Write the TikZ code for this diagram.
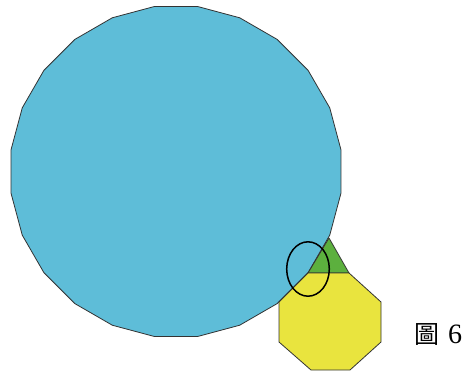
\documentclass[tikz,border=0pt]{standalone}
\usepackage{fontspec}
\setmainfont{Liberation Serif}
\newfontfamily\cjk{Noto Sans CJK TC}
\usetikzlibrary{positioning}
\definecolor{bigblue}{RGB}{94,189,216}
\definecolor{trigreen}{RGB}{92,176,62}
\definecolor{octyellow}{RGB}{233,228,62}

\begin{document}
\begin{tikzpicture}[x=1pt,y=-1pt, tile/.style={draw=black!80,line width=0.8pt,line join=round}]
\useasboundingbox (0,0) rectangle (463,372);
% 24-gon
\begin{scope}[shift={(176,171.5)}]
\coordinate (c24) at (0,0);
\draw[tile,fill=bigblue] (7.5:166.4) \foreach \k in {1,...,23}{ -- (7.5+15*\k:166.4)} -- cycle;
\end{scope}
% triangle and octagon
\coordinate (v) at (308,273);
\draw[tile,fill=trigreen] (v) -- (349,273) -- (329,238) -- cycle;
\draw[tile,fill=octyellow] (v) -- (349,273) -- (381,302) -- (381,342) -- (350,370) -- (311,370) -- (279,342) -- (279,302) -- cycle;
% mark
\draw[line width=1.5pt] (308,269) ellipse [x radius=21.3, y radius=27.2];
\node[inner sep=0pt] (cap) at (438,334.5) {{\cjk\fontsize{25}{25}\selectfont 圖}\hspace{9pt}{\fontsize{28}{28}\selectfont 6}};
\end{tikzpicture}
\end{document}
